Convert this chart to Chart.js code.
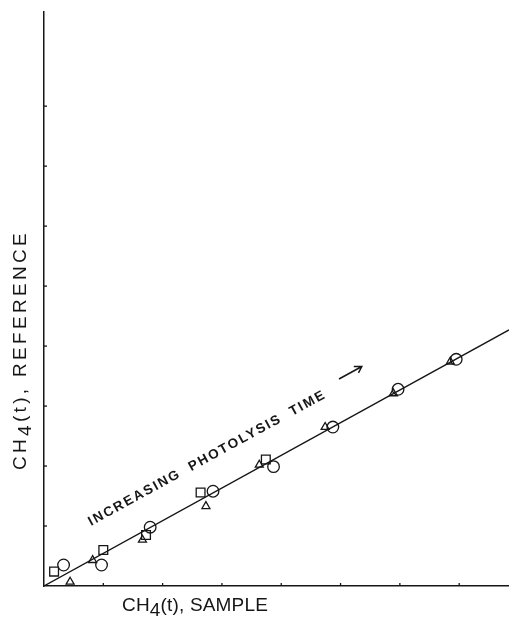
<!DOCTYPE html>
<html>
<head>
<meta charset="utf-8">
<script src="https://cdn.jsdelivr.net/npm/chart.js@4/dist/chart.umd.min.js"></script>
<style>
  html, body { margin: 0; padding: 0; background: #fff; }
  #wrap { width: 509px; height: 621px; }
</style>
</head>
<body>
<div id="wrap"><canvas id="chart" width="509" height="621"></canvas></div>
<script>
// tick positions (no labels on this plot)
const xTicks = [1, 2, 3, 4, 5, 6, 7];
const yTicks = [1, 2, 3, 4, 5, 6, 7, 8];

// open circles
const circleX = [0.33, 0.97, 1.79, 2.85, 3.87, 4.87, 5.97, 6.95];
const circleY = [0.35, 0.35, 0.98, 1.58, 1.99, 2.65, 3.28, 3.78];
// open squares
const squareX = [0.17, 1.00, 1.72, 2.64, 3.74];
const squareY = [0.24, 0.60, 0.85, 1.56, 2.11];
// open triangles
const triX = [0.44, 0.82, 1.66, 2.73, 3.63, 4.74, 5.89, 6.85];
const triY = [0.07, 0.43, 0.77, 1.33, 2.02, 2.65, 3.21, 3.74];
// fitted line
const lineX = [0, 7.84];
const lineY = [0, 4.27];

const INK = '#161616';

function pts(xs, ys) {
  return xs.map((x, i) => ({ x: x, y: ys[i] }));
}

// draws text pieces one after the other, some of them lowered (subscript)
function drawPieces(ctx, pieces, x, y, spacing) {
  ctx.letterSpacing = spacing + 'px';
  let cx = x;
  pieces.forEach(p => {
    ctx.fillText(p.t, cx, y + p.dy);
    cx += ctx.measureText(p.t).width;
  });
}

function spacingFor(ctx, pieces, target) {
  ctx.letterSpacing = '0px';
  const text = pieces.map(p => p.t).join('');
  const w = ctx.measureText(text).width;
  return (target - w) / text.length;
}

const decor = {
  id: 'decor',
  afterDraw(chart) {
    const ctx = chart.ctx;
    const a = chart.chartArea;
    const sx = chart.scales.x;
    const sy = chart.scales.y;
    ctx.save();
    ctx.strokeStyle = INK;
    ctx.lineWidth = 1.3;

    // small inward tick marks
    xTicks.forEach(v => {
      const px = sx.getPixelForValue(v);
      ctx.beginPath();
      ctx.moveTo(px, a.bottom);
      ctx.lineTo(px, a.bottom - 3);
      ctx.stroke();
    });
    yTicks.forEach(v => {
      const py = sy.getPixelForValue(v);
      ctx.beginPath();
      ctx.moveTo(a.left, py);
      ctx.lineTo(a.left + 3, py);
      ctx.stroke();
    });

    ctx.fillStyle = INK;
    ctx.textBaseline = 'alphabetic';
    ctx.textAlign = 'left';

    // x axis title
    ctx.font = '19px "Liberation Sans", Arial, sans-serif';
    const xPieces = [{ t: 'CH', dy: 0 }, { t: '4', dy: 5 }, { t: '(t), SAMPLE', dy: 0 }];
    drawPieces(ctx, xPieces, 122, 611, spacingFor(ctx, xPieces, 146));

    // y axis title
    ctx.save();
    ctx.translate(26, 470);
    ctx.rotate(-Math.PI / 2);
    const yPieces = [{ t: 'CH', dy: 0 }, { t: '4', dy: 5 }, { t: '(t), REFERENCE', dy: 0 }];
    drawPieces(ctx, yPieces, 0, 0, spacingFor(ctx, yPieces, 240));
    ctx.restore();

    // annotation along the line
    const ang = -Math.atan2(129, 236);
    ctx.save();
    ctx.translate(91, 526);
    ctx.rotate(ang);
    ctx.font = 'bold 13.5px "Liberation Sans", Arial, sans-serif';
    const label = 'INCREASING PHOTOLYSIS TIME';
    ctx.letterSpacing = '0px';
    if ('wordSpacing' in ctx) ctx.wordSpacing = '5px';
    const w0 = ctx.measureText(label).width;
    ctx.letterSpacing = ((269 - w0) / label.length) + 'px';
    ctx.fillText(label, 0, 0);
    if ('wordSpacing' in ctx) ctx.wordSpacing = '0px';
    ctx.restore();

    // arrow
    ctx.save();
    ctx.translate(339, 379);
    ctx.rotate(ang);
    ctx.lineWidth = 1.5;
    ctx.beginPath();
    ctx.moveTo(0, 0);
    ctx.lineTo(26, 0);
    ctx.moveTo(19, -4);
    ctx.lineTo(26, 0);
    ctx.lineTo(20, 4);
    ctx.stroke();
    ctx.restore();

    ctx.restore();
  }
};

const marker = { borderColor: INK, backgroundColor: 'rgba(0,0,0,0)', borderWidth: 1.3 };
const noGrid = { display: false, drawTicks: false, tickLength: 0 };

new Chart(document.getElementById('chart'), {
  type: 'scatter',
  data: {
    datasets: [
      { type: 'line', data: pts(lineX, lineY), borderColor: INK, borderWidth: 1.3, pointRadius: 0, fill: false },
      Object.assign({ data: pts(circleX, circleY), pointStyle: 'circle', pointRadius: 5.8 }, marker),
      Object.assign({ data: pts(squareX, squareY), pointStyle: 'rect', pointRadius: 6.2 }, marker),
      Object.assign({ data: pts(triX, triY), pointStyle: 'triangle', pointRadius: 4.6 }, marker)
    ]
  },
  options: {
    responsive: false,
    animation: false,
    layout: { autoPadding: false, padding: { left: 44, top: 12, right: 0, bottom: 35 } },
    plugins: { legend: { display: false }, tooltip: { enabled: false } },
    scales: {
      x: {
        type: 'linear', min: 0, max: 7.84,
        grid: noGrid,
        ticks: { display: false, padding: 0 },
        border: { display: true, color: INK, width: 1.5 }
      },
      y: {
        type: 'linear', min: 0, max: 9.57,
        grid: noGrid,
        ticks: { display: false, padding: 0 },
        border: { display: true, color: INK, width: 1.5 }
      }
    }
  },
  plugins: [decor]
});
</script>
</body>
</html>
